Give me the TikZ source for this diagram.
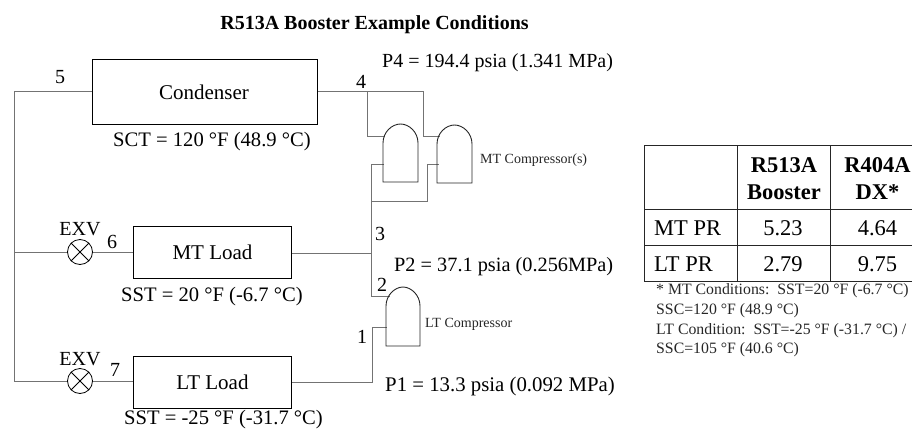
\documentclass[tikz,border=0pt]{standalone}
\usepackage{fontspec}
\setmainfont{Liberation Serif}
\newcommand{\fsz}[1]{\fontsize{#1}{#1}\selectfont}
\tikzset{
  pipe/.style={draw=black!55,line width=0.7pt},
  unit/.style={draw=black,line width=0.9pt,minimum height=52pt,inner sep=0pt},
  lbl/.style={inner sep=0pt,anchor=base west,font=\fsz{20.6}},
  num/.style={inner sep=0pt,anchor=base,font=\fsz{20}},
  small/.style={inner sep=0pt,anchor=base west,font=\fsz{14},text=black!85},
  note/.style={inner sep=0pt,anchor=base west,font=\fsz{15.8},text=black!85},
  cell/.style={inner sep=0pt,anchor=base,font=\fsz{22.5}},
  cellb/.style={inner sep=0pt,anchor=base,font=\fsz{22.5}\bfseries},
  arch/.style={draw=black!85,line width=0.9pt},
  valve/.style={circle,draw=black,line width=0.8pt,minimum size=25pt,inner sep=0pt,fill=white},
  grid/.style={draw=black!85,line width=0.9pt}
}
\begin{document}
\begin{tikzpicture}[x=1pt,y=-1pt]
\useasboundingbox (0,0) rectangle (912,428);
\node[inner sep=0pt,anchor=base,font=\fsz{20}\bfseries] (title) at (374.5,30) {R513A Booster Example Conditions};
% units
\node[unit,anchor=north west,minimum width=225pt,minimum height=65pt] (cond) at (92,59) {};
\node[inner sep=0pt,anchor=base,font=\fsz{21}] (condt) at (204,99) {Condenser};
\node[unit,anchor=north west,minimum width=158pt] (mt) at (133,226) {};
\node[inner sep=0pt,font=\fsz{21}] (mtt) at (mt.center) {MT Load};
\node[unit,anchor=north west,minimum width=158pt] (lt) at (133,356) {};
\node[inner sep=0pt,font=\fsz{21}] (ltt) at (lt.center) {LT Load};
% valves
\node[valve] (v6) at (80,252) {};
\node[valve] (v7) at (80,381) {};
\foreach \v in {v6,v7}{
  \draw[line width=0.8pt] (\v.north west) -- (\v.south east) (\v.north east) -- (\v.south west);
}
% coordinates
\coordinate (tl) at (14,91);
\coordinate (ml) at (14,252);
\coordinate (bl) at (14,381);
\coordinate (j4) at (367,91.5);
\coordinate (j4b) at (423,91.5);
\coordinate (j3) at (371,253);
\coordinate (c1o) at (385,136);
\coordinate (c2o) at (440,136);
\coordinate (c1i) at (384,164);
\coordinate (c2i) at (439,164);
\coordinate (j3a) at (371,164);
\coordinate (j3b) at (371,201);
\coordinate (j3c) at (427,201);
\coordinate (j3d) at (427,164);
\coordinate (c3o) at (390,296);
\coordinate (c3i) at (387,327);
\coordinate (j2) at (371,296);
\coordinate (j1) at (372,327);
\coordinate (j1b) at (372,382);
% pipes
\draw[pipe] (cond.west |- tl) -- (tl) -- (bl) -- (v7);
\draw[pipe] (ml) -- (v6);
\draw[pipe] (v6) -- (mt.west |- v6);
\draw[pipe] (v7) -- (lt.west |- v7);
\draw[pipe] (cond.east |- j4) -- (j4b) -- (c2o -| j4b) -- (c2o);
\draw[pipe] (j4) -- (c1o -| j4) -- (c1o);
\draw[pipe] (mt.east |- j3) -- (j3);
\draw[pipe] (c1i) -- (j3a) -- (j2) -- (c3o);
\draw[pipe] (j3b) -- (j3c) -- (j3d) -- (c2i);
\draw[pipe] (lt.east |- j1b) -- (j1b) -- (j1) -- (c3i);
% compressors
\draw[arch] (383,182) -- (383,143) .. controls (383,132) and (392,124) .. (400.5,124) .. controls (409,124) and (418,132) .. (418,143) -- (418,182) -- cycle;
\draw[arch] (437,183) -- (437,144) .. controls (437,133) and (446,125) .. (454.5,125) .. controls (463,125) and (472,133) .. (472,144) -- (472,183) -- cycle;
\draw[arch] (386,346) -- (386,306) .. controls (386,295) and (395,287) .. (403,287) .. controls (411,287) and (420,295) .. (420,306) -- (420,346) -- cycle;
% labels
\node[num] (n5) at (60,83) {5};
\node[num] (n4) at (361,88) {4};
\node[num] (n3) at (380,240) {3};
\node[num] (n2) at (382,291) {2};
\node[num] (n1) at (362,343) {1};
\node[num] (n6) at (112,248) {6};
\node[num] (n7) at (115,376) {7};
\node[num] (e6) at (80,235) {EXV};
\node[num] (e7) at (80,365) {EXV};
\node[lbl] (sct) at (113,146) {SCT = 120 °F (48.9 °C)};
\node[lbl] (sst1) at (121,301) {SST = 20 °F (-6.7 °C)};
\node[lbl] (sst2) at (124,424) {SST = -25 °F (-31.7 °C)};
\node[lbl,font=\fsz{20}] (p4) at (382,67) {P4 = 194.4 psia (1.341 MPa)};
\node[lbl,font=\fsz{20.3}] (p2) at (394,271) {P2 = 37.1 psia (0.256MPa)};
\node[lbl,font=\fsz{20.8}] (p1) at (385,391) {P1 = 13.3 psia (0.092 MPa)};
\node[small] (mtc) at (480,163) {MT Compressor(s)};
\node[small] (ltc) at (425,327) {LT Compressor};
% table
\draw[grid] (912,145) -- (644,145) -- (644,281) -- (912,281);
\draw[grid] (644,209) -- (912,209) (644,245) -- (912,245);
\draw[grid] (737,145) -- (737,281) (830,145) -- (830,281);
\node[cellb] (h1a) at (784,172) {R513A};
\node[cellb] (h1b) at (784,199) {Booster};
\node[cellb] (h2a) at (877.5,172) {R404A};
\node[cellb] (h2b) at (877.5,199) {DX*};
\node[cell,anchor=base west] (r1) at (654,235) {MT PR};
\node[cell,anchor=base west] (r2) at (654,271) {LT PR};
\node[cell] (a) at (783,235) {5.23};
\node[cell] (b) at (877.5,235) {4.64};
\node[cell] (c) at (783,271) {2.79};
\node[cell] (d) at (877.5,271) {9.75};
\node[note] (f1) at (656,294) {* MT Conditions:\ \ SST=20 °F (-6.7 °C)};
\node[note] (f2) at (656,314) {SSC=120 °F (48.9 °C)};
\node[note] (f3) at (656,334) {LT Condition:\ \ SST=-25 °F (-31.7 °C) /};
\node[note] (f4) at (656,353) {SSC=105 °F (40.6 °C)};
\end{tikzpicture}
\end{document}
